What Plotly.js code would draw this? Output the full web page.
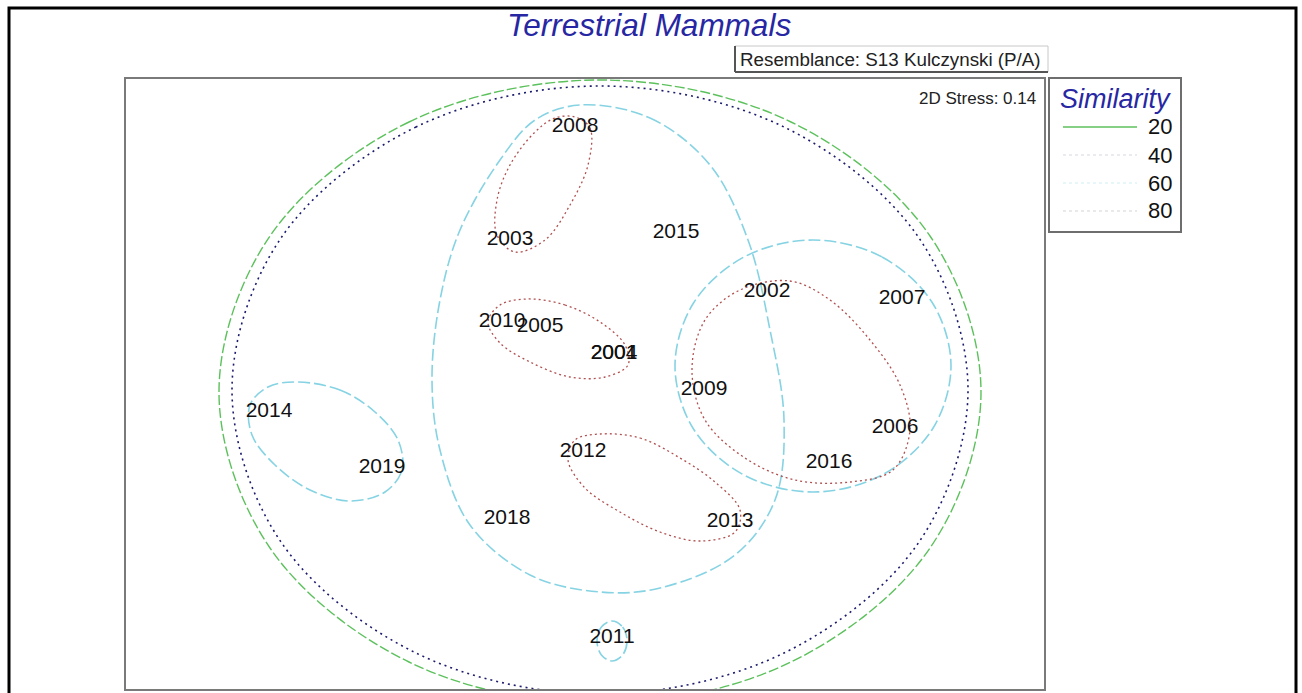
<!DOCTYPE html>
<html><head><meta charset="utf-8">
<script src="https://cdn.plot.ly/plotly-3.0.1.min.js"></script>
<style>html,body{margin:0;padding:0;background:#fff}#chart{width:1302px;height:693px}</style>
</head><body><div id="chart"></div>
<script>
// MDS ordination: sample labels (years) and 2D coordinates
const years  = ['2008','2003','2015','2010','2005','2004','2001','2009','2002','2007','2006','2016','2012','2013','2018','2014','2019','2011'];
const mdsX   = [-0.10,-0.75, 0.91,-0.83,-0.45, 0.29, 0.29, 1.19, 1.82, 3.17, 3.10, 2.44,-0.02, 1.45,-0.78,-3.16,-2.03, 0.27];
const mdsY   = [ 2.57, 1.44, 1.51, 0.62, 0.57, 0.30, 0.30,-0.06, 0.92, 0.85,-0.44,-0.79,-0.68,-1.38,-1.35,-0.28,-0.84,-2.54];

// Similarity contour outlines (cluster levels)
const levels = ['20','40','60','80'];
const c20X = [0.15,-1.76,-3.15,-3.66,-3.15,-1.76, 0.15, 2.06, 3.45, 3.96, 3.45, 2.06];
const c20Y = [3.04, 2.62, 1.48,-0.08,-1.64,-2.78,-3.20,-2.78,-1.64,-0.08, 1.48, 2.62];
const c40X = [0.15,-1.69,-3.04,-3.53,-3.04,-1.69, 0.15, 1.99, 3.34, 3.83, 3.34, 1.99];
const c40Y = [2.98, 2.57, 1.46,-0.06,-1.58,-2.69,-3.10,-2.69,-1.58,-0.06, 1.46, 2.57];
const c60aX = [-0.05, 0.65, 1.25, 1.63, 1.85, 1.99, 1.90, 1.50, 0.75, 0.15,-0.55,-1.15,-1.45,-1.53,-1.45,-1.25,-0.85,-0.50];
const c60aY = [ 2.79, 2.66, 2.19, 1.44, 0.54,-0.36,-1.16,-1.71,-2.04,-2.08,-1.91,-1.41,-0.66, 0.04, 0.84, 1.54, 2.24, 2.64];
const c60bX = [2.28, 2.97, 3.475, 3.66, 3.475, 2.97, 2.28, 1.59, 1.085, 0.90, 1.085, 1.59];
const c60bY = [1.44, 1.27, 0.81, 0.18,-0.45,-0.91,-1.08,-0.91,-0.45, 0.18, 0.81, 1.27];
const c60cX = [-2.88,-2.45,-2.10,-1.87,-1.83,-2.00,-2.35,-2.75,-3.10,-3.33,-3.35,-3.17];
const c60cY = [ 0.02,-0.06,-0.28,-0.56,-0.86,-1.08,-1.17,-1.06,-0.81,-0.51,-0.21,-0.03];
const c60dX = [0.27, 0.376, 0.42, 0.376, 0.27, 0.164, 0.12, 0.164];
const c60dY = [-2.37,-2.43,-2.57,-2.71,-2.77,-2.71,-2.57,-2.43];
const c80aX = [-0.10, 0.05, 0.03,-0.15,-0.40,-0.70,-0.88,-0.88,-0.75,-0.50,-0.30];
const c80aY = [ 2.67, 2.56, 2.19, 1.79, 1.44, 1.32, 1.49, 1.84, 2.19, 2.52, 2.66];
const c80bX = [-0.58,-0.20, 0.15, 0.40, 0.43, 0.20,-0.15,-0.55,-0.85,-0.97,-0.85];
const c80bY = [ 0.85, 0.79, 0.62, 0.39, 0.19, 0.07, 0.07, 0.22, 0.41, 0.62, 0.79];
const c80cX = [2.05, 2.45, 2.85, 3.15, 3.25, 3.08, 2.65, 2.10, 1.60, 1.20, 1.07, 1.20, 1.55];
const c80cY = [1.03, 0.84, 0.44,-0.01,-0.46,-0.86,-0.98,-0.96,-0.74,-0.36, 0.14, 0.64, 0.94];
const c80dX = [0.15, 0.55, 0.95, 1.30, 1.55, 1.50, 1.15, 0.75, 0.35, 0.00,-0.17,-0.10];
const c80dY = [-0.50,-0.54,-0.74,-0.98,-1.26,-1.48,-1.57,-1.48,-1.28,-1.04,-0.76,-0.56];

const W = 1302, H = 693;
const fx = p => p / W, fy = p => 1 - p / H;
const FONT = 'Arial, "Liberation Sans", sans-serif';

const styles = {
  '20': {color:'#5cc15c', width:1.4, dash:'10px,3px'},
  '40': {color:'#1c1c6e', width:1.6, dash:'2px,4px'},
  '60': {color:'#86d3e3', width:1.6, dash:'12px,4px'},
  '80': {color:'#b05050', width:1.3, dash:'2px,3px'}
};
// closed ring: repeat the first point so Plotly draws a closed spline
function closeRing(a){ return a.concat([a[0]]); }
function contour(xs, ys, lvl){
  return {x: closeRing(xs), y: closeRing(ys), mode:'lines', type:'scatter',
    line: Object.assign({shape:'spline', smoothing:1}, styles[lvl]),
    hoverinfo:'skip', showlegend:false};
}
const traces = [
  contour(c20X, c20Y, '20'),
  contour(c40X, c40Y, '40'),
  contour(c60aX, c60aY, '60'),
  contour(c60bX, c60bY, '60'),
  contour(c60cX, c60cY, '60'),
  contour(c60dX, c60dY, '60'),
  contour(c80aX, c80aY, '80'),
  contour(c80bX, c80bY, '80'),
  contour(c80cX, c80cY, '80'),
  contour(c80dX, c80dY, '80'),
  {x: mdsX, y: mdsY, text: years, mode:'text', type:'scatter', cliponaxis:false,
   textfont:{family:FONT, size:21, color:'#111'}, textposition:'middle center', showlegend:false}
];

// legend (drawn by hand, as in the original figure)
const legendRowsY = [127,155,183,211];
const legendSample = {
  '20': {color:'#5cc15c', width:1.5, dash:'solid'},
  '40': {color:'#d6d6e4', width:1.2, dash:'dot'},
  '60': {color:'#cdeef3', width:1.2, dash:'dot'},
  '80': {color:'#d3d3d3', width:1.2, dash:'dot'}
};
const shapes = [
  {type:'rect', xref:'paper', yref:'paper', x0:fx(9), x1:fx(1296), y0:-0.05, y1:fy(8), line:{color:'#000', width:3}},
  {type:'rect', xref:'paper', yref:'paper', x0:fx(125), x1:fx(1045), y0:fy(690), y1:fy(78), line:{color:'#7a7a7a', width:2}},
  {type:'rect', xref:'paper', yref:'paper', x0:fx(1049), x1:fx(1181), y0:fy(232), y1:fy(78), line:{color:'#6e6e6e', width:2}},
  {type:'rect', xref:'paper', yref:'paper', x0:fx(735), x1:fx(1048), y0:fy(72), y1:fy(46), line:{color:'#c8c8c8', width:1}},
  {type:'line', xref:'paper', yref:'paper', x0:fx(735), x1:fx(735), y0:fy(72), y1:fy(46), line:{color:'#555', width:2}},
  {type:'line', xref:'paper', yref:'paper', x0:fx(735), x1:fx(1048), y0:fy(72), y1:fy(72), line:{color:'#555', width:2}}
];
levels.forEach((l,i)=>{
  shapes.push({type:'line', xref:'paper', yref:'paper', x0:fx(1063), x1:fx(1137), y0:fy(legendRowsY[i]), y1:fy(legendRowsY[i]), line:legendSample[l]});
});
const annotations = [
  {text:'Terrestrial Mammals', xref:'paper', yref:'paper', x:fx(649), y:fy(25), xanchor:'center', yanchor:'middle', showarrow:false,
   font:{family:FONT, size:31.5, color:'#2727a3', style:'italic'}},
  {text:'Resemblance: S13 Kulczynski (P/A)', xref:'paper', yref:'paper', x:fx(1043), y:fy(60), xanchor:'right', yanchor:'middle', showarrow:false,
   font:{family:FONT, size:18.8, color:'#222'}},
  {text:'2D Stress: 0.14', xref:'paper', yref:'paper', x:fx(1038), y:fy(99), xanchor:'right', yanchor:'middle', showarrow:false,
   font:{family:FONT, size:17, color:'#222'}},
  {text:'Similarity', xref:'paper', yref:'paper', x:fx(1115), y:fy(99), xanchor:'center', yanchor:'middle', showarrow:false,
   font:{family:FONT, size:27, color:'#2727a3', style:'italic'}}
];
levels.forEach((l,i)=>{
  annotations.push({text:l, xref:'paper', yref:'paper', x:fx(1174), y:fy(legendRowsY[i]), xanchor:'right', yanchor:'middle', showarrow:false,
    font:{family:FONT, size:22, color:'#111'}});
});

const layout = {
  width:W, height:H, margin:{l:0,r:0,t:0,b:0}, paper_bgcolor:'#fff', plot_bgcolor:'#fff',
  showlegend:false,
  xaxis:{domain:[fx(125), fx(1045)], range:[-4.6,4.6], visible:false, fixedrange:true},
  yaxis:{domain:[fy(690), fy(78)], range:[-3.06,3.06], visible:false, fixedrange:true},
  shapes: shapes, annotations: annotations
};
Plotly.newPlot('chart', traces, layout, {displayModeBar:false, staticPlot:true});
</script></body></html>
